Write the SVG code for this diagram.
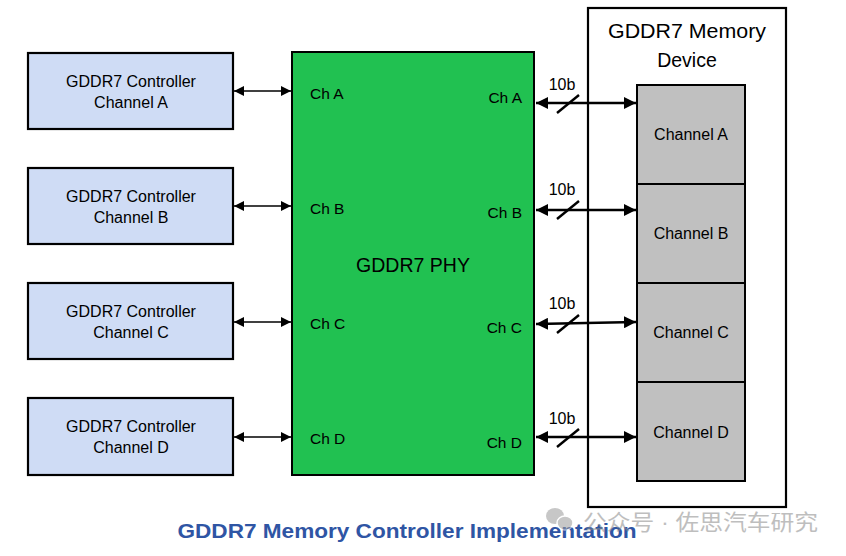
<svg xmlns="http://www.w3.org/2000/svg" width="846" height="556" viewBox="0 0 846 556">
<defs>
<marker id="ah" viewBox="0 0 10 10" refX="10" refY="5" markerWidth="10" markerHeight="10" markerUnits="userSpaceOnUse" orient="auto-start-reverse"><path d="M0,0 L10,5 L0,10 z" fill="#000"/></marker>
<marker id="ah2" viewBox="0 0 10 10" refX="10" refY="5" markerWidth="12" markerHeight="12" markerUnits="userSpaceOnUse" orient="auto-start-reverse"><path d="M0,0 L10,5 L0,10 z" fill="#000"/></marker>
<style>
.ctl{fill:#cfdcf5;stroke:#000;stroke-width:2.2}
.phy{fill:#21c151;stroke:#000;stroke-width:2}
.mem{fill:#fff;stroke:#000;stroke-width:2.2}
.ch{fill:#c0c0c0;stroke:#000;stroke-width:2}
text{font-family:"Liberation Sans","Noto Sans CJK SC",sans-serif;fill:#000}
.t{font-size:16px;text-anchor:middle}
.s{font-size:15.5px}
.big{font-size:19.5px;text-anchor:middle}
.la{stroke:#000;stroke-width:1.6;fill:none;marker-start:url(#ah);marker-end:url(#ah)}
.ra{stroke:#000;stroke-width:2.6;fill:none;marker-start:url(#ah2);marker-end:url(#ah2)}
.sl{stroke:#000;stroke-width:2.4}
</style>
</defs>
<rect width="846" height="556" fill="#fff"/>
<g id="memory-device"><rect class="mem" x="588" y="8" width="198" height="499"/><text class="big" x="687" y="38" font-size="21.5" textLength="158" lengthAdjust="spacingAndGlyphs">GDDR7 Memory</text><text class="big" x="687" y="67" font-size="21.5">Device</text></g>
<g id="ctrl-a"><rect class="ctl" x="28" y="53" width="205" height="76"/><text class="t" x="131" y="87">GDDR7 Controller</text><text class="t" x="131" y="108">Channel A</text></g>
<g id="ctrl-b"><rect class="ctl" x="28" y="168" width="205" height="76"/><text class="t" x="131" y="202">GDDR7 Controller</text><text class="t" x="131" y="223">Channel B</text></g>
<g id="ctrl-c"><rect class="ctl" x="28" y="283" width="205" height="76"/><text class="t" x="131" y="317">GDDR7 Controller</text><text class="t" x="131" y="338">Channel C</text></g>
<g id="ctrl-d"><rect class="ctl" x="28" y="398" width="205" height="77"/><text class="t" x="131" y="432">GDDR7 Controller</text><text class="t" x="131" y="453">Channel D</text></g>
<g id="phy"><rect class="phy" x="292" y="52" width="242" height="423"/><text class="big" x="413" y="272">GDDR7 PHY</text>
<text class="s" x="310" y="99">Ch A</text><text class="s" x="310" y="214">Ch B</text><text class="s" x="310" y="329">Ch C</text><text class="s" x="310" y="444">Ch D</text>
<text class="s" x="522" y="103" text-anchor="end">Ch A</text><text class="s" x="522" y="218" text-anchor="end">Ch B</text><text class="s" x="522" y="333" text-anchor="end">Ch C</text><text class="s" x="522" y="448" text-anchor="end">Ch D</text></g>
<g id="chan-a"><rect class="ch" x="637" y="85" width="108" height="99"/><text class="t" x="691" y="140">Channel A</text></g>
<g id="chan-b"><rect class="ch" x="637" y="184" width="108" height="99"/><text class="t" x="691" y="239">Channel B</text></g>
<g id="chan-c"><rect class="ch" x="637" y="283" width="108" height="99"/><text class="t" x="691" y="338">Channel C</text></g>
<g id="chan-d"><rect class="ch" x="637" y="382" width="108" height="99"/><text class="t" x="691" y="438">Channel D</text></g>
<g id="connectors">
<line class="la" x1="234" y1="91" x2="291" y2="91"/>
<line class="la" x1="234" y1="206" x2="291" y2="206"/>
<line class="la" x1="234" y1="322" x2="291" y2="322"/>
<line class="la" x1="234" y1="437" x2="291" y2="437"/>
<line class="ra" x1="536" y1="103" x2="636" y2="103"/>
<line class="ra" x1="536" y1="210" x2="636" y2="210"/>
<line class="ra" x1="536" y1="324" x2="636" y2="322"/>
<line class="ra" x1="536" y1="437" x2="636" y2="437"/>
<line class="sl" x1="557" y1="113" x2="579" y2="95"/>
<line class="sl" x1="557" y1="219" x2="579" y2="201"/>
<line class="sl" x1="557" y1="333" x2="579" y2="315"/>
<line class="sl" x1="557" y1="447" x2="579" y2="429"/>
<text class="t" x="562" y="90" font-size="15">10b</text>
<text class="t" x="562" y="195" font-size="15">10b</text>
<text class="t" x="562" y="309" font-size="15">10b</text>
<text class="t" x="562" y="424" font-size="15">10b</text>
</g>
<text x="407" y="538" text-anchor="middle" font-size="21" font-weight="bold" style="fill:#2f55a4" textLength="459" lengthAdjust="spacingAndGlyphs">GDDR7 Memory Controller Implementation</text>
<g id="watermark" opacity="0.55">
<ellipse cx="555" cy="516" rx="9" ry="8" fill="#9a9a9a"/>
<ellipse cx="565" cy="523" rx="8" ry="7" fill="#9a9a9a" stroke="#fff" stroke-width="1.5"/>
<text x="583" y="530" font-size="22" style="fill:#8a8a8a" textLength="235" lengthAdjust="spacingAndGlyphs">公众号 · 佐思汽车研究</text>
</g>
</svg>
